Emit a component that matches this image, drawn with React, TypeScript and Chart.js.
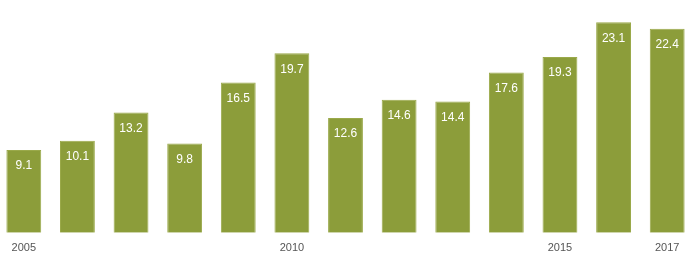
import React, { useEffect, useRef } from "react";
import { Chart, registerables } from "chart.js";

Chart.register(...registerables);

const years = ["2005", "2006", "2007", "2008", "2009", "2010", "2011", "2012", "2013", "2014", "2015", "2016", "2017"];
const values = [9.1, 10.1, 13.2, 9.8, 16.5, 19.7, 12.6, 14.6, 14.4, 17.6, 19.3, 23.1, 22.4];
const shownTicks = ["2005", "2010", "2015", "2017"];

const valueLabels = {
  id: "valueLabels",
  afterDatasetsDraw(chart: any) {
    const ctx = chart.ctx;
    const meta = chart.getDatasetMeta(0);
    ctx.save();
    ctx.fillStyle = "#ffffff";
    ctx.font = "12px 'Liberation Sans', Arial, sans-serif";
    ctx.textAlign = "center";
    ctx.textBaseline = "middle";
    meta.data.forEach((bar: any, i: number) => {
      ctx.fillText(values[i].toFixed(1), bar.x, bar.y + 16);
    });
    ctx.restore();
  },
};

export default function App() {
  const ref = useRef<HTMLCanvasElement | null>(null);
  useEffect(() => {
    if (!ref.current) return;
    const chart = new Chart(ref.current, {
      type: "bar",
      data: {
        labels: years,
        datasets: [
          {
            data: values,
            backgroundColor: "#8c9d3a",
            borderColor: "#9aa94a",
            borderWidth: 1,
            categoryPercentage: 0.65,
            barPercentage: 1,
          },
        ],
      },
      options: {
        animation: false,
        responsive: false,
        maintainAspectRatio: false,
        layout: { padding: { top: 5, bottom: 16, left: 0, right: 0 } },
        plugins: { legend: { display: false }, tooltip: { enabled: false } },
        scales: {
          x: {
            grid: { display: false, drawTicks: false },
            border: { display: false },
            ticks: {
              autoSkip: false,
              maxRotation: 0,
              padding: 9,
              color: "#555555",
              font: { size: 11, family: "'Liberation Sans', Arial, sans-serif" },
              callback: (_v: any, i: number) => (shownTicks.includes(years[i]) ? years[i] : ""),
            },
          },
          y: { display: false, min: 0, max: 25 },
        },
      },
      plugins: [valueLabels],
    });
    return () => chart.destroy();
  }, []);
  return (
    <div style={{ position: "absolute", left: -3, top: 0, width: 697, height: 280 }}>
      <canvas ref={ref} width={697} height={280} style={{ width: 697, height: 280 }} />
    </div>
  );
}
